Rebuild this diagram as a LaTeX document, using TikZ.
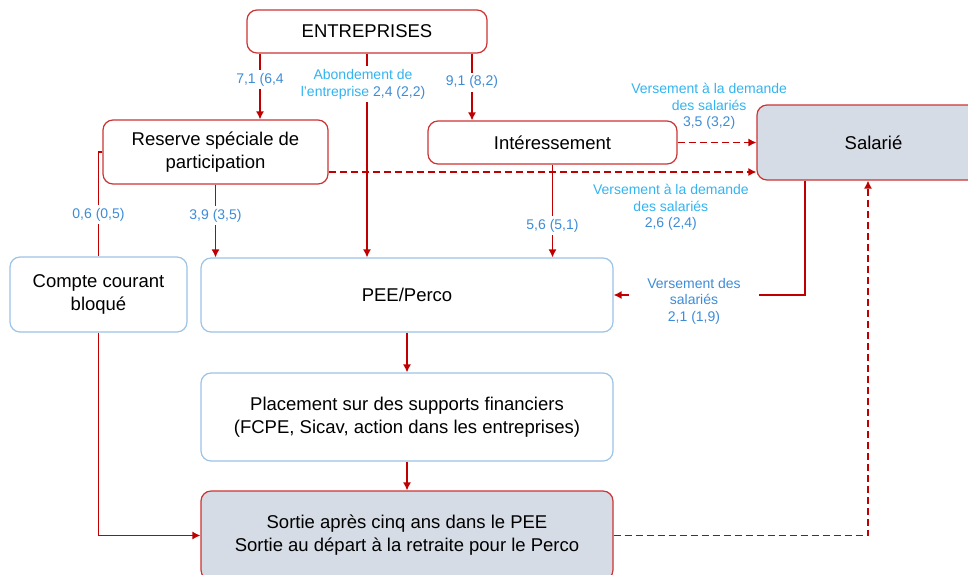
\documentclass[tikz,border=0pt]{standalone}
\usepackage{fontspec}
\setmainfont{Liberation Sans}
\usetikzlibrary{arrows.meta}

\definecolor{lineRed}{RGB}{192,0,0}
\definecolor{boxRed}{RGB}{204,51,51}
\definecolor{boxBlue}{RGB}{157,195,230}
\definecolor{fillGray}{RGB}{214,220,229}
\definecolor{numBlue}{RGB}{62,140,215}
\definecolor{cyanText}{RGB}{50,180,240}

\begin{document}
\begin{tikzpicture}
[x=1pt,y=-1pt,
  boxDecorate/.style={shape=rectangle,rounded corners=10pt,line width=1.2pt,align=center,inner sep=2pt,font=\fontsize{18.5}{23}\selectfont},
  redBox/.style={boxDecorate,draw=boxRed,fill=white},
  blueBox/.style={boxDecorate,draw=boxBlue,fill=white},
  grayBox/.style={boxDecorate,draw=boxRed,fill=fillGray},
  lineDecorate/.style={-,draw=lineRed,line width=1.3pt},
  arrowDecorate/.style={lineDecorate,-{Latex[length=8pt,width=8pt]}},
  dashDecorate/.style={arrowDecorate,dash pattern=on 7pt off 4pt},
  labelDecorate/.style={fill=white,inner sep=3pt,align=center,text=numBlue,font=\fontsize{14}{16.5}\selectfont}]
\useasboundingbox (0,0) rectangle (968,574);
\clip (0,0) rectangle (968,574);
%% nodes or boxes
\foreach \nodename/\x/\y/\w/\h/\sty/\txt in {
  ent/367/31.5/240/43/redBox/{ENTREPRISES},
  res/215.5/152/225/64/redBox/{Reserve spéciale de\\participation},
  inte/552.5/142.5/249/43/redBox/{Intéressement},
  sal/873.5/142.5/233/75/grayBox/{Salarié},
  cpt/98.5/294.5/177/75/blueBox/{Compte courant\\bloqué},
  pee/407/295/412/74/blueBox/{PEE/Perco},
  plc/407/417/412/88/blueBox/{Placement sur des supports financiers\\(FCPE, Sicav, action dans les entreprises)},
  sor/407/535.5/412/89/grayBox/{Sortie après cinq ans dans le PEE\\Sortie au départ à la retraite pour le Perco}}
{
  \node (\nodename) at (\x,\y) [\sty,minimum width=\w pt,minimum height=\h pt] {\txt};
}
%% columns of the connectors
\coordinate (xa) at (260,0);
\coordinate (xb) at (472,0);
\coordinate (xc) at (805,0);
\coordinate (xd) at (868,0);
\coordinate (rd) at ([yshift=-20pt]res.east);
%% edges or lines
\draw[arrowDecorate] (ent.south -| xa) -- node[labelDecorate,pos=0.4] {7,1 (6,4} (res.north -| xa);
\draw[arrowDecorate] (ent.south) -- node[labelDecorate,pos=0.15,text=cyanText,xshift=-4pt] {Abondement de\\l'entreprise \textcolor{numBlue}{2,4 (2,2)}} (ent.south |- pee.north);
\draw[arrowDecorate] (ent.south -| xb) -- node[labelDecorate,pos=0.43] {9,1 (8,2)} (inte.north -| xb);
\draw[arrowDecorate] (res.south) -- node[labelDecorate,pos=0.43] {3,9 (3,5)} (res.south |- pee.north);
\draw[lineDecorate] (res.west) -| node[labelDecorate,pos=0.8] {0,6 (0,5)} (cpt.north);
\draw[arrowDecorate] (inte.south) -- node[labelDecorate,pos=0.66] {5,6 (5,1)} (inte.south |- pee.north);
\draw[dashDecorate] (rd) -- node[labelDecorate,fill=none,below=9pt,pos=0.8,text=cyanText] {Versement à la demande\\des salariés\\\textcolor{numBlue}{2,6 (2,4)}} (rd -| sal.west);
\draw[dashDecorate] (inte.east) -- node[labelDecorate,fill=none,above=9pt,pos=0.4,text=cyanText] {Versement à la demande\\des salariés\\\textcolor{numBlue}{3,5 (3,2)}} (sal.west);
\draw[arrowDecorate] (sal.south -| xc) |- node[labelDecorate,pos=0.79,inner xsep=18pt,yshift=-6pt] {Versement des\\salariés\\2,1 (1,9)} (pee.east);
\draw[arrowDecorate] (pee) -- (plc);
\draw[arrowDecorate] (plc) -- (sor);
\draw[arrowDecorate] (cpt.south) |- (sor.west);
\draw[dashDecorate] (sor.east) -| (sal.south -| xd);
\end{tikzpicture}
\end{document}
